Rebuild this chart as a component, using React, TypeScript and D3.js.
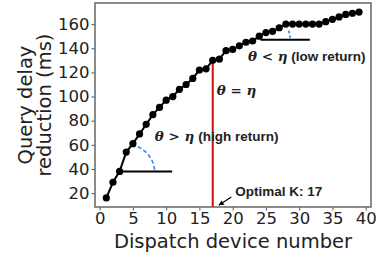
import React from "react";
import * as d3 from "d3";

// dispatch device number K and measured query delay reduction (ms)
const devices = [
  1, 2, 3, 4, 5, 6, 7, 8, 9, 10, 11, 12, 13, 14, 15, 16, 17, 18, 19, 20,
  21, 22, 23, 24, 25, 26, 27, 28, 29, 30, 31, 32, 33, 34, 35, 36, 37, 38, 39,
];
const reduction = [
  16, 29, 38, 54, 61, 69, 77, 85, 91, 97, 100, 106, 110, 115, 122, 123, 130, 131, 138, 139,
  142, 145, 146, 150, 153, 154, 157, 160, 160, 160, 160, 160, 160, 162, 164, 166, 168, 169, 170,
];
const xTicks = [0, 5, 10, 15, 20, 25, 30, 35, 40];
const yTicks = [20, 40, 60, 80, 100, 120, 140, 160];
const optimalK = 17;
// tangent reference segments: [x start, x end, y]
const highRef = [3, 10.9, 38];
const lowRef = [24.2, 31.6, 147];

const W = 378;
const H = 258;
const margin = { top: 3, right: 7, bottom: 51, left: 95 };

const App = () => {
  const svgRef = React.useRef(null);
  const width = W - margin.left - margin.right;
  const height = H - margin.top - margin.bottom;

  React.useEffect(() => {
    const xScale = d3.scaleLinear().domain([-0.7, 40.8]).range([0, width]);
    const yScale = d3.scaleLinear().domain([8.5, 177.5]).range([height, 0]);

    const svgEl = d3.select(svgRef.current);
    svgEl.selectAll("*").remove();
    const svg = svgEl
      .append("g")
      .attr("transform", `translate(${margin.left},${margin.top})`);

    const tickFont = "DejaVu Sans, sans-serif";

    // axes
    const xAxis = d3.axisBottom(xScale).tickValues(xTicks).tickSize(3.5).tickPadding(2);
    const xg = svg.append("g").attr("transform", `translate(0,${height})`).call(xAxis);
    xg.select(".domain").remove();
    xg.selectAll("line").attr("stroke", "#555").attr("stroke-width", 1);
    xg.selectAll("text")
      .attr("fill", "#222")
      .attr("font-size", 16.5)
      .attr("font-family", tickFont);

    const yAxis = d3.axisLeft(yScale).tickValues(yTicks).tickSize(3.5).tickPadding(2);
    const yg = svg.append("g").call(yAxis);
    yg.select(".domain").remove();
    yg.selectAll("line").attr("stroke", "#555").attr("stroke-width", 1);
    yg.selectAll("text")
      .attr("fill", "#222")
      .attr("font-size", 16.5)
      .attr("font-family", tickFont);

    svg.append("rect")
      .attr("width", width)
      .attr("height", height)
      .attr("fill", "none")
      .attr("stroke", "#666")
      .attr("stroke-width", 1.5);

    // axis titles
    svg.append("text")
      .attr("x", width / 2 + 0)
      .attr("y", height + 41)
      .attr("text-anchor", "middle")
      .attr("font-size", 19.5)
      .attr("font-family", tickFont)
      .attr("fill", "#222")
      .text("Dispatch device number");

    const yTitle = svg.append("text")
      .attr("transform", `translate(${-margin.left + 32},${height / 2}) rotate(-90)`)
      .attr("text-anchor", "middle")
      .attr("font-size", 19.5)
      .attr("font-family", tickFont)
      .attr("fill", "#222");
    yTitle.append("tspan").attr("x", 0).attr("dy", 0).text("Query delay");
    yTitle.append("tspan").attr("x", 0).attr("dy", 19).text("reduction (ms)");

    // optimal K marker line
    const kIdx = devices.indexOf(optimalK);
    svg.append("line")
      .attr("x1", xScale(optimalK))
      .attr("x2", xScale(optimalK))
      .attr("y1", height)
      .attr("y2", yScale(reduction[kIdx]))
      .attr("stroke", "#cc1111")
      .attr("stroke-width", 2);

    // reference horizontals
    [highRef, lowRef].forEach((r) => {
      svg.append("line")
        .attr("x1", xScale(r[0]))
        .attr("x2", xScale(r[1]))
        .attr("y1", yScale(r[2]))
        .attr("y2", yScale(r[2]))
        .attr("stroke", "#000")
        .attr("stroke-width", 2);
    });

    // angle arcs (dashed blue)
    const arcPath = (cx: number, cy: number, rx: number, ry: number, a0: number, a1: number) => {
      const pts: [number, number][] = d3.range(0, 1.0001, 0.05).map((t) => {
        const a = ((a0 + (a1 - a0) * t) * Math.PI) / 180;
        return [cx + rx * Math.cos(a), cy - ry * Math.sin(a)];
      });
      return d3.line()(pts);
    };
    svg.append("path")
      .attr("d", arcPath(xScale(highRef[0]), yScale(highRef[2]), 35, 29, 3, 66))
      .attr("fill", "none")
      .attr("stroke", "#3b82f6")
      .attr("stroke-width", 1.6)
      .attr("stroke-dasharray", "4,2.5");
    svg.append("path")
      .attr("d", arcPath(xScale(lowRef[0]), yScale(lowRef[2]), 29.5, 29.5, 3, 23))
      .attr("fill", "none")
      .attr("stroke", "#3b82f6")
      .attr("stroke-width", 1.6)
      .attr("stroke-dasharray", "3,2");

    // main curve
    const pts = devices.map((d, i) => [d, reduction[i]] as [number, number]);
    const line = d3.line<[number, number]>()
      .x((d) => xScale(d[0]))
      .y((d) => yScale(d[1]));
    svg.append("path")
      .attr("d", line(pts))
      .attr("fill", "none")
      .attr("stroke", "#000")
      .attr("stroke-width", 2);
    svg.selectAll(".pt")
      .data(pts)
      .enter()
      .append("circle")
      .attr("cx", (d) => xScale(d[0]))
      .attr("cy", (d) => yScale(d[1]))
      .attr("r", 3.6)
      .attr("fill", "#000");

    // annotations
    const mathFont = "DejaVu Serif, serif";
    const label = (x: number, y: number, sym: string, rest: string) => {
      const t = svg.append("text")
        .attr("x", xScale(x))
        .attr("y", yScale(y))
        .attr("font-size", 13.5)
        .attr("font-weight", "bold")
        .attr("fill", "#222");
      t.append("tspan").attr("font-family", mathFont).attr("font-style", "italic").text("θ");
      t.append("tspan").attr("font-family", mathFont).text(` ${sym} `);
      t.append("tspan").attr("font-family", mathFont).attr("font-style", "italic").text("η");
      if (rest) t.append("tspan").attr("font-family", "Liberation Sans, Arial, sans-serif").text(` ${rest}`);
    };
    label(8.3, 63.5, ">", "(high return)");
    label(17.6, 101.5, "=", "");
    label(22.3, 129.5, "<", "(low return)");

    svg.append("text")
      .attr("x", xScale(20.4))
      .attr("y", yScale(17.5))
      .attr("font-size", 13.5)
      .attr("font-weight", "bold")
      .attr("font-family", "Liberation Sans, Arial, sans-serif")
      .attr("fill", "#222")
      .text("Optimal K: 17");

    // arrow pointing to the optimal line
    const ax1 = xScale(19.8), ay1 = yScale(16.8);
    const ax2 = xScale(17.9), ay2 = yScale(9.9);
    svg.append("line")
      .attr("x1", ax1).attr("y1", ay1).attr("x2", ax2).attr("y2", ay2)
      .attr("stroke", "#000").attr("stroke-width", 1.2);
    const ang = Math.atan2(ay2 - ay1, ax2 - ax1);
    const hl = 5, hw = 2.6;
    const head: [number, number][] = [
      [ax2, ay2],
      [ax2 - hl * Math.cos(ang) + hw * Math.sin(ang), ay2 - hl * Math.sin(ang) - hw * Math.cos(ang)],
      [ax2 - hl * Math.cos(ang) - hw * Math.sin(ang), ay2 - hl * Math.sin(ang) + hw * Math.cos(ang)],
    ];
    svg.append("path").attr("d", d3.line()(head) + "Z").attr("fill", "#000");
  }, []);

  return (
    <svg
      ref={svgRef}
      width={W}
      height={H}
      style={{ position: "absolute", left: 0, top: 0, background: "#fff" }}
    />
  );
};

export default App;
